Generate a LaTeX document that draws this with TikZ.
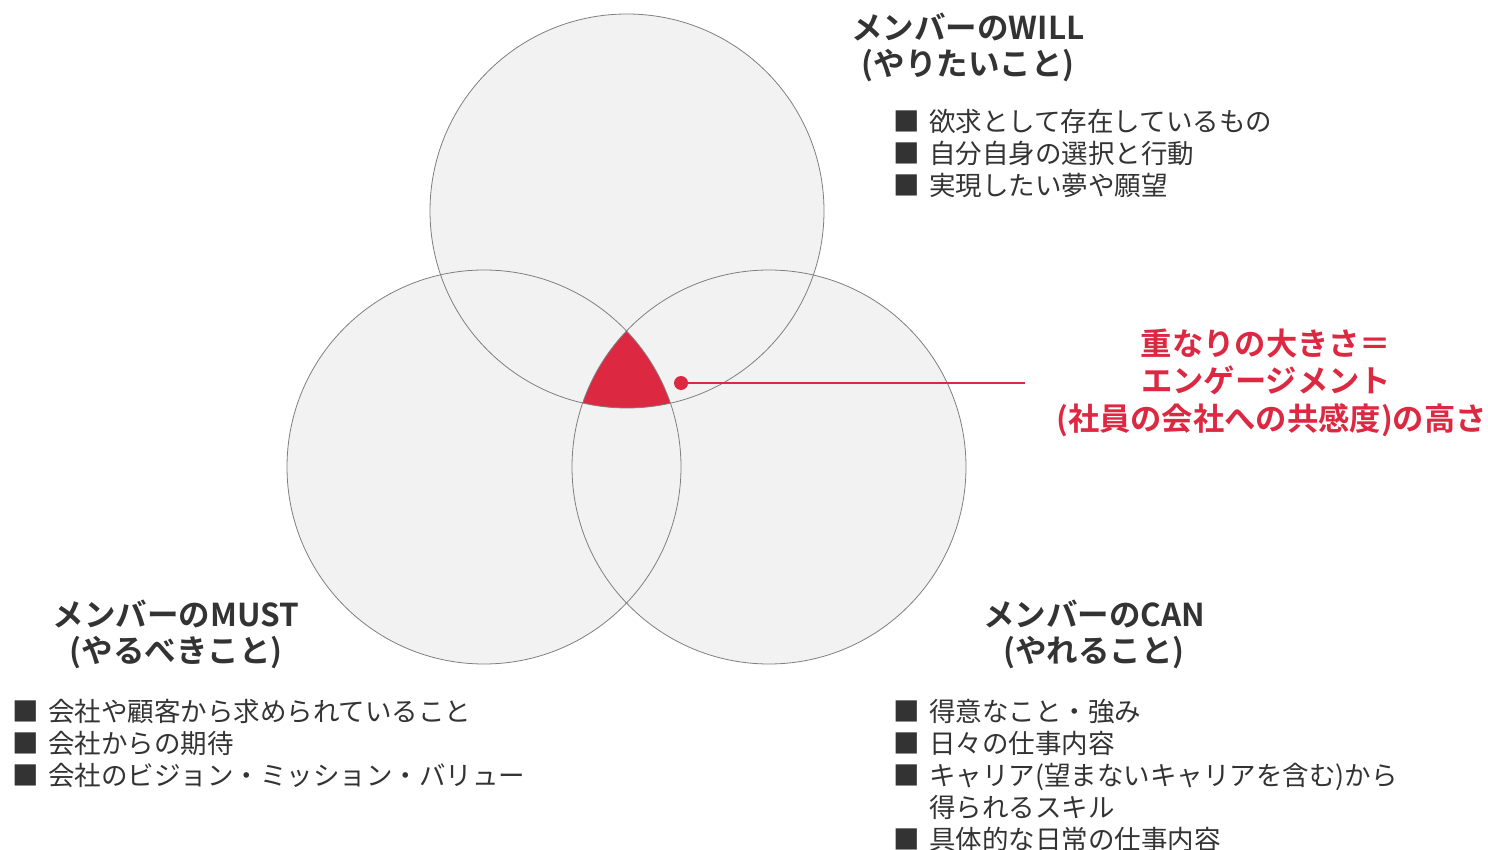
\documentclass[tikz,border=0pt]{standalone}
\usepackage{fontspec}
\setmainfont{Noto Sans CJK JP}[BoldFont={Noto Sans CJK JP Bold}]
\definecolor{vfill}{HTML}{F2F2F2}
\definecolor{vstroke}{HTML}{7F7F7F}
\definecolor{txt}{HTML}{333333}
\definecolor{accent}{HTML}{DC2841}
\newcommand{\bul}{■\hspace{0.36em}}
\begin{document}
\begin{tikzpicture}[x=1pt,y=-1pt,
  ring/.style={draw=vstroke, line width=0.8pt},
  head/.style={anchor=base, font=\bfseries\fontsize{31.5}{36}\selectfont, text=txt, inner sep=0pt},
  item/.style={anchor=base west, font=\fontsize{26.5}{32}\selectfont, text=txt, inner sep=0pt},
  redtxt/.style={anchor=base, font=\bfseries\fontsize{31.3}{37}\selectfont, text=accent, inner sep=0pt}]
\useasboundingbox (0,0) rectangle (1488,850);
\coordinate (cW) at (627,211);
\coordinate (cM) at (484,467);
\coordinate (cC) at (769,467);
\fill[vfill] (cW) circle (197pt) (cM) circle (197pt) (cC) circle (197pt);
\begin{scope}
  \clip (cW) circle (197pt);
  \clip (cM) circle (197pt);
  \fill[accent] (cC) circle (197pt);
\end{scope}
\draw[ring] (cW) circle (197pt);
\draw[ring] (cM) circle (197pt);
\draw[ring] (cC) circle (197pt);
% connector
\node[circle, fill=accent, minimum size=14pt, inner sep=0pt] (dot) at (681,383) {};
\coordinate (lineend) at (1025,383);
\draw[accent, line width=1.5pt] (dot.center) -- (lineend);
% red label
\node[redtxt] (r1) at (1266,355) {重なりの大きさ＝};
\node[redtxt] (r2) at (1266,392) {エンゲージメント};
\node[redtxt, anchor=base east] (r3) at (1487,430) {(社員の会社への共感度)の高さ};
% WILL
\node[head] (wh1) at (968,40) {メンバーのWILL};
\node[head] (wh2) at (968,76) {(やりたいこと)};
\node[item] (w1) at (893,132) {\bul 欲求として存在しているもの};
\node[item] (w2) at (893,164) {\bul 自分自身の選択と行動};
\node[item] (w3) at (893,196) {\bul 実現したい夢や願望};
% MUST
\node[head] (mh1) at (176,626) {メンバーのMUST};
\node[head] (mh2) at (176,662) {(やるべきこと)};
\node[item] (m1) at (12,721) {\bul 会社や顧客から求められていること};
\node[item] (m2) at (12,753) {\bul 会社からの期待};
\node[item] (m3) at (12,785) {\bul 会社のビジョン・ミッション・バリュー};
% CAN
\node[head] (ch1) at (1094,626) {メンバーのCAN};
\node[head] (ch2) at (1094,662) {(やれること)};
\node[item] (c1) at (893,721) {\bul 得意なこと・強み};
\node[item] (c2) at (893,753) {\bul 日々の仕事内容};
\node[item] (c3) at (893,785) {\bul キャリア(望まないキャリアを含む)から};
\node[item] (c4) at (893,817) {\phantom{\bul}得られるスキル};
\node[item] (c5) at (893,849) {\bul 具体的な日常の仕事内容};
\end{tikzpicture}
\end{document}
